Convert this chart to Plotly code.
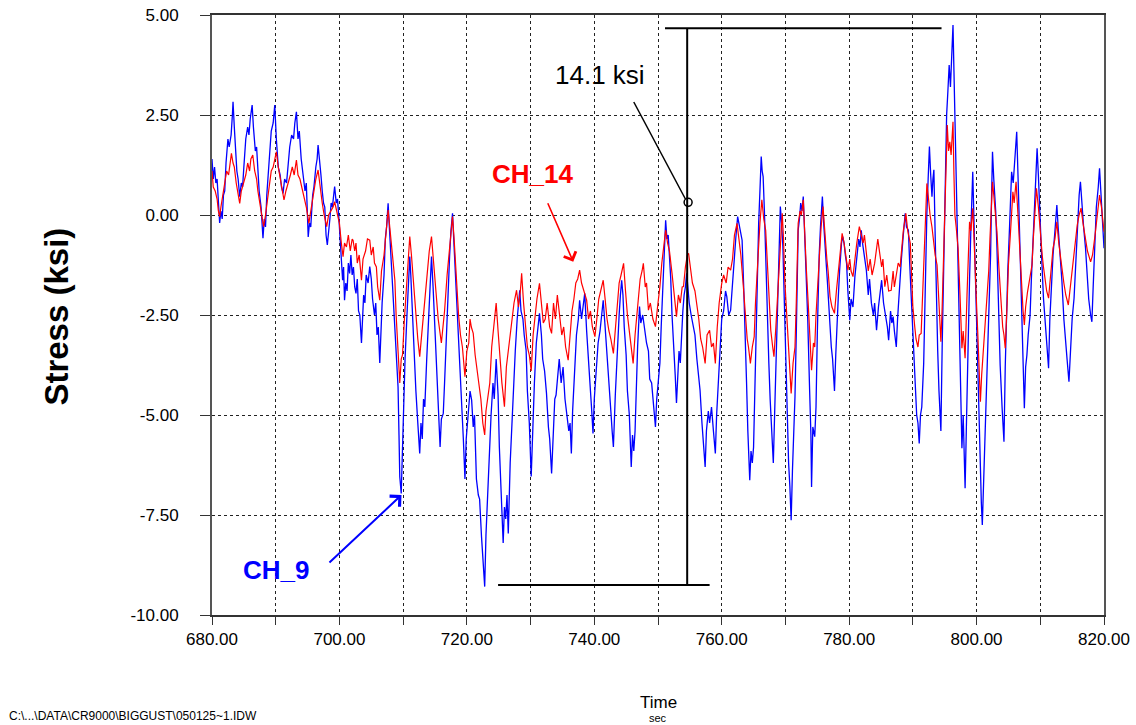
import plotly.graph_objects as go

# CH_9 (blue): (time sec, stress ksi)
ch9 = [
    (680.0, 1.4), (680.2, 0.9), (680.4, 1.2), (680.6, 0.8), (680.8, 0.9), (681.0, 0.3), (681.2, -0.2),
    (681.4, 0.1), (681.6, -0.1), (681.8, 0.5), (682.0, 0.6), (682.2, 1.3), (682.5, 1.9), (682.7, 1.7),
    (683.0, 2.0), (683.2, 2.5), (683.3, 2.83), (683.5, 2.2), (683.7, 1.7), (683.9, 1.1), (684.1, 0.9),
    (684.35, 0.46), (684.6, 0.8), (684.8, 0.7), (685.0, 1.2), (685.3, 1.9), (685.6, 2.2), (685.8, 2.0),
    (686.0, 2.4), (686.3, 2.75), (686.5, 2.2), (686.8, 1.6), (687.0, 1.7), (687.2, 1.0), (687.4, 0.6),
    (687.7, 0.2), (688.0, -0.58), (688.2, -0.1), (688.4, -0.3), (688.6, 0.5), (688.9, 1.2), (689.1, 1.6),
    (689.3, 2.1), (689.6, 2.3), (689.85, 2.75), (690.1, 1.9), (690.4, 1.2), (690.7, 1.0), (690.9, 0.7),
    (691.15, 0.54), (691.4, 0.9), (691.7, 0.8), (692.0, 1.4), (692.2, 1.7), (692.5, 2.0), (692.8, 1.9),
    (693.0, 2.3), (693.25, 2.58), (693.5, 1.9), (693.7, 2.1), (694.0, 1.4), (694.3, 1.0), (694.6, 0.6),
    (694.8, 0.8), (695.1, -0.55), (695.3, -0.2), (695.5, -0.3), (695.8, 0.5), (696.0, 0.7), (696.3, 1.2),
    (696.5, 1.4), (696.65, 1.75), (696.9, 1.2), (697.1, 1.0), (697.3, 0.6), (697.5, 0.3), (697.7, 0.2),
    (697.9, -0.5), (698.1, -0.75), (698.3, -0.3), (698.5, -0.1), (698.7, 0.3), (698.9, 0.2), (699.1, 0.5),
    (699.25, 0.71), (699.5, 0.3), (699.7, 0.4), (699.9, -0.04), (700.2, -0.9), (700.5, -1.63), (700.65, -1.3),
    (700.8, -2.13), (701.0, -1.7), (701.2, -1.9), (701.4, -1.2), (701.6, -1.46), (701.8, -1.0), (702.0, -1.5),
    (702.2, -1.3), (702.4, -1.8), (702.6, -1.96), (702.8, -1.6), (703.0, -2.4), (703.2, -2.5), (703.46, -3.2),
    (703.6, -2.6), (703.8, -2.0), (704.0, -2.2), (704.2, -1.5), (704.5, -1.7), (704.76, -1.29), (705.0, -1.6),
    (705.2, -2.1), (705.5, -2.5), (705.7, -2.2), (705.9, -3.0), (706.1, -2.8), (706.33, -3.7), (706.5, -2.9),
    (706.7, -2.2), (707.0, -1.5), (707.2, -0.6), (707.4, -0.3), (707.64, 0.29), (707.8, -0.2), (708.0, -0.8),
    (708.3, -1.6), (708.5, -2.2), (708.7, -2.6), (708.9, -3.4), (709.2, -4.3), (709.35, -5.5), (709.47, -6.54),
    (709.7, -6.96), (709.9, -5.8), (710.1, -5.0), (710.3, -3.6), (710.6, -2.5), (710.8, -1.6), (711.04, -1.04),
    (711.2, -1.5), (711.4, -2.3), (711.6, -2.8), (711.8, -3.5), (712.0, -4.4), (712.3, -5.2), (712.6, -5.96),
    (712.8, -5.2), (713.0, -5.6), (713.2, -4.6), (713.4, -4.8), (713.7, -3.6), (714.0, -2.4), (714.2, -1.6),
    (714.45, -1.04), (714.7, -1.8), (715.0, -2.9), (715.2, -3.5), (715.5, -4.8), (715.8, -5.8), (716.0, -5.1),
    (716.3, -4.96), (716.5, -4.2), (716.8, -2.8), (717.0, -2.0), (717.3, -1.0), (717.5, -0.4), (717.75, 0.04),
    (718.0, -0.8), (718.3, -1.8), (718.5, -2.5), (718.8, -3.6), (719.0, -4.1), (719.2, -4.54), (719.45, -5.6),
    (719.7, -6.6), (719.9, -5.6), (720.2, -5.0), (720.5, -4.4), (720.75, -4.63), (721.0, -5.3), (721.2, -5.0),
    (721.5, -6.6), (721.8, -7.0), (722.0, -7.1), (722.3, -8.04), (722.55, -8.6), (722.8, -9.29), (723.0, -8.0),
    (723.3, -6.8), (723.6, -5.8), (723.8, -5.0), (724.1, -4.2), (724.3, -4.6), (724.6, -3.6), (724.9, -4.5),
    (725.1, -5.8), (725.4, -6.9), (725.7, -8.2), (725.9, -7.3), (726.1, -7.6), (726.3, -7.0), (726.5, -7.96),
    (726.8, -6.2), (727.0, -5.4), (727.3, -4.6), (727.6, -3.4), (727.9, -2.6), (728.1, -2.2), (728.3, -1.88),
    (728.5, -2.4), (728.8, -2.6), (729.0, -3.0), (729.3, -3.38), (729.5, -4.4), (729.8, -5.2), (730.1, -6.54),
    (730.3, -5.4), (730.6, -4.2), (730.9, -3.2), (731.1, -2.9), (731.4, -2.46), (731.7, -3.0), (731.9, -3.6),
    (732.2, -3.9), (732.5, -4.46), (732.8, -5.3), (733.0, -5.6), (733.3, -6.46), (733.5, -5.5), (733.8, -4.6),
    (734.0, -4.5), (734.2, -4.2), (734.5, -3.6), (734.8, -4.2), (735.1, -3.8), (735.4, -4.6), (735.7, -5.0),
    (736.0, -5.4), (736.2, -5.2), (736.4, -5.96), (736.6, -4.9), (736.9, -4.0), (737.2, -3.0), (737.5, -2.6),
    (737.7, -2.13), (738.0, -2.6), (738.2, -2.3), (738.5, -1.96), (738.8, -2.9), (739.1, -3.8), (739.4, -4.4),
    (739.6, -4.9), (739.8, -5.46), (740.0, -4.6), (740.3, -4.0), (740.6, -3.2), (740.9, -2.9), (741.1, -2.5),
    (741.4, -2.13), (741.7, -2.8), (742.0, -3.6), (742.3, -4.3), (742.6, -4.9), (742.8, -5.4), (743.0, -5.8),
    (743.3, -4.5), (743.6, -3.4), (743.9, -2.5), (744.1, -2.0), (744.3, -1.63), (744.5, -2.0), (744.7, -2.8),
    (745.0, -3.5), (745.2, -4.4), (745.5, -5.0), (745.8, -6.3), (746.0, -5.5), (746.2, -5.9), (746.4, -5.4),
    (746.6, -4.2), (746.8, -3.3), (747.1, -2.29), (747.3, -2.7), (747.6, -2.5), (747.9, -2.9), (748.2, -3.2),
    (748.5, -3.4), (748.7, -4.1), (749.0, -4.2), (749.3, -4.8), (749.6, -5.3), (749.8, -4.6), (750.0, -4.2),
    (750.3, -3.7), (750.5, -2.8), (750.7, -1.9), (750.9, -1.0), (751.05, -0.4), (751.2, -0.13), (751.4, -0.6),
    (751.6, -0.5), (751.8, -1.04), (752.0, -1.6), (752.2, -2.5), (752.5, -3.3), (752.7, -4.0), (752.9, -4.7),
    (753.1, -3.9), (753.3, -3.4), (753.5, -3.7), (753.7, -2.88), (753.9, -2.4), (754.1, -2.0), (754.3, -1.8),
    (754.5, -1.46), (754.7, -1.9), (754.9, -2.2), (755.2, -2.5), (755.5, -2.71), (755.8, -3.0), (756.1, -3.6),
    (756.4, -4.0), (756.6, -4.38), (756.9, -5.2), (757.1, -5.7), (757.4, -6.3), (757.6, -5.4), (757.9, -4.9),
    (758.1, -5.2), (758.4, -4.8), (758.7, -5.4), (759.0, -5.96), (759.2, -5.0), (759.5, -4.1), (759.8, -3.04),
    (760.0, -2.6), (760.3, -2.4), (760.6, -1.9), (760.8, -2.04), (761.1, -2.5), (761.4, -2.38), (761.6, -1.9),
    (761.9, -1.46), (762.2, -0.6), (762.5, -0.04), (762.8, -0.3), (763.0, -0.5), (763.2, -0.63), (763.45, -1.8),
    (763.7, -2.88), (763.9, -4.2), (764.1, -5.4), (764.4, -6.63), (764.6, -5.9), (764.8, -6.2), (765.0, -5.8),
    (765.2, -4.3), (765.4, -2.6), (765.6, -1.38), (765.8, -0.2), (766.0, 0.6), (766.2, 1.46), (766.35, 1.1),
    (766.5, 0.96), (766.7, 0.1), (766.9, -1.21), (767.1, -2.2), (767.4, -3.71), (767.6, -4.6), (767.8, -5.2),
    (768.1, -6.2), (768.3, -5.0), (768.5, -3.9), (768.7, -2.88), (768.9, -1.5), (769.05, -0.5), (769.2, 0.21),
    (769.4, -0.2), (769.6, -0.8), (769.8, -2.0), (770.1, -4.1), (770.3, -5.0), (770.5, -6.2), (770.7, -6.8),
    (770.9, -7.63), (771.1, -6.4), (771.3, -5.5), (771.5, -4.54), (771.7, -3.0), (771.85, -1.6), (772.0, -0.38),
    (772.2, -0.1), (772.4, 0.3), (772.6, 0.1), (772.8, 0.46), (773.0, -0.4), (773.3, -1.63), (773.5, -2.6),
    (773.8, -4.4), (774.0, -5.5), (774.1, -6.8), (774.3, -5.3), (774.6, -5.54), (774.8, -4.8), (775.0, -3.0),
    (775.1, -2.04), (775.3, -1.0), (775.5, -0.3), (775.8, 0.46), (776.0, -0.2), (776.2, -0.6), (776.4, -1.21),
    (776.6, -1.7), (776.9, -2.6), (777.2, -3.3), (777.4, -3.6), (777.7, -4.4), (777.9, -3.5), (778.1, -2.5),
    (778.3, -2.04), (778.5, -1.4), (778.8, -0.7), (779.0, -0.54), (779.2, -0.7), (779.4, -1.0), (779.6, -1.21),
    (779.8, -1.9), (780.1, -2.63), (780.3, -2.1), (780.6, -2.3), (780.9, -1.54), (781.2, -1.0), (781.5, -0.6),
    (781.7, -0.8), (781.9, -0.38), (782.1, -0.7), (782.4, -1.1), (782.7, -1.38), (783.0, -2.0), (783.2, -1.6),
    (783.5, -2.21), (783.8, -2.5), (784.0, -2.2), (784.3, -2.88), (784.6, -2.3), (784.9, -1.9), (785.1, -1.63),
    (785.4, -2.2), (785.7, -2.5), (786.0, -2.8), (786.2, -3.13), (786.5, -2.4), (786.7, -2.7), (786.9, -2.54),
    (787.1, -2.9), (787.4, -3.3), (787.6, -2.6), (787.8, -2.0), (788.0, -1.63), (788.2, -1.1), (788.5, -0.5),
    (788.8, 0.04), (789.0, -0.3), (789.3, -0.38), (789.5, -1.2), (789.8, -2.21), (790.0, -3.0), (790.2, -3.8),
    (790.4, -4.54), (790.6, -5.0), (790.8, -5.2), (791.0, -5.71), (791.2, -5.0), (791.4, -4.8), (791.7, -3.71),
    (791.9, -2.0), (792.05, -0.8), (792.2, 0.04), (792.4, 0.9), (792.6, 1.71), (792.8, 1.0), (793.0, 0.46),
    (793.15, 0.9), (793.3, 1.13), (793.5, -0.5), (793.7, -2.3), (793.9, -3.4), (794.1, -4.4), (794.4, -5.4),
    (794.6, -3.3), (794.8, -1.67), (795.0, 0.2), (795.15, 1.4), (795.3, 2.5), (795.5, 3.1), (795.7, 3.75),
    (795.9, 3.2), (796.1, 4.1), (796.3, 4.75), (796.45, 3.6), (796.6, 2.5), (796.75, 1.2), (796.9, 0.0),
    (797.1, -0.83), (797.3, -2.4), (797.5, -4.2), (797.7, -5.83), (797.9, -5.0), (798.05, -6.0), (798.2, -6.83),
    (798.4, -5.3), (798.55, -4.0), (798.7, -2.92), (798.9, -1.6), (799.1, -0.4), (799.25, 0.5), (799.4, 1.08),
    (799.6, -0.2), (799.8, -1.5), (800.0, -2.3), (800.2, -3.33), (800.4, -4.9), (800.6, -6.25), (800.75, -7.2),
    (800.9, -7.75), (801.1, -6.8), (801.3, -5.83), (801.5, -4.8), (801.7, -3.5), (802.0, -2.5), (802.2, -1.0),
    (802.35, 0.4), (802.5, 1.58), (802.7, 0.9), (803.0, 0.1), (803.2, -0.83), (803.45, -2.4), (803.7, -3.75),
    (804.0, -4.8), (804.3, -5.67), (804.5, -3.8), (804.7, -2.5), (804.9, -1.4), (805.2, -0.2), (805.5, 1.08),
    (805.75, 0.8), (806.0, 1.5), (806.15, 1.7), (806.3, 2.08), (806.5, 1.0), (806.65, 0.2), (806.8, -1.17),
    (807.0, -2.3), (807.3, -3.8), (807.5, -4.83), (807.7, -3.8), (807.9, -3.5), (808.1, -3.0), (808.4, -2.5),
    (808.6, -1.6), (808.9, -0.42), (809.1, 0.4), (809.3, 1.0), (809.5, 1.67), (809.7, 1.0), (810.0, -0.42),
    (810.2, -1.0), (810.5, -2.08), (810.8, -2.8), (811.0, -3.3), (811.3, -3.83), (811.5, -2.6), (811.8, -1.5),
    (812.0, -1.0), (812.3, -0.4), (812.6, 0.25), (812.8, -0.3), (813.1, -0.9), (813.4, -1.67), (813.7, -2.6),
    (814.0, -3.3), (814.2, -3.6), (814.5, -4.17), (814.7, -3.4), (815.0, -2.6), (815.3, -2.08), (815.6, -1.0),
    (815.9, 0.0), (816.1, 0.5), (816.3, 0.83), (816.5, 0.3), (816.8, -0.3), (817.1, -0.83), (817.3, -1.4),
    (817.6, -2.1), (817.9, -2.5), (818.1, -2.67), (818.3, -1.8), (818.6, -0.67), (818.8, 0.2), (819.1, 0.7),
    (819.3, 1.17), (819.5, 0.6), (819.8, -0.2), (820.0, -0.83),
]

# CH_14 (red)
ch14 = [
    (680.0, 1.1), (680.2, 0.7), (680.5, 0.6), (680.8, 0.4), (681.0, 0.1), (681.2, -0.04), (681.4, 0.2),
    (681.7, 0.5), (682.0, 0.9), (682.3, 1.1), (682.6, 1.0), (682.8, 1.3), (683.05, 1.54), (683.3, 1.3),
    (683.5, 1.2), (683.8, 0.8), (684.1, 0.5), (684.35, 0.29), (684.6, 0.6), (685.0, 0.8), (685.3, 1.0),
    (685.6, 1.3), (685.9, 1.1), (686.1, 1.4), (686.4, 1.5), (686.7, 1.1), (687.0, 0.9), (687.2, 0.6),
    (687.5, 0.3), (687.8, 0.1), (688.1, -0.29), (688.4, 0.0), (688.7, 0.4), (689.0, 0.8), (689.3, 1.1),
    (689.6, 1.2), (689.9, 1.4), (690.1, 1.58), (690.4, 1.2), (690.7, 0.9), (691.0, 0.7), (691.3, 0.375),
    (691.6, 0.6), (692.0, 0.8), (692.3, 1.0), (692.6, 1.2), (692.9, 1.0), (693.25, 1.375), (693.5, 1.0),
    (693.8, 0.9), (694.2, 0.6), (694.5, 0.4), (694.8, 0.2), (695.2, -0.21), (695.5, 0.1), (695.8, 0.4),
    (696.0, 0.6), (696.3, 0.9), (696.65, 1.125), (697.0, 0.6), (697.3, 0.3), (697.6, 0.0), (698.0, -0.29),
    (698.3, 0.0), (698.7, 0.1), (699.0, 0.2), (699.25, 0.33), (699.6, 0.1), (700.0, -0.21), (700.3, -0.7),
    (700.57, -1.04), (700.8, -0.7), (701.1, -0.8), (701.4, -0.5), (701.7, -0.9), (702.0, -0.6), (702.14, -0.63),
    (702.4, -0.9), (702.6, -0.7), (702.8, -1.2), (703.1, -1.0), (703.46, -1.63), (703.7, -1.1), (704.1, -0.9),
    (704.4, -0.6), (704.76, -0.63), (705.0, -1.0), (705.3, -0.8), (705.5, -1.2), (705.8, -1.3), (706.0, -1.8),
    (706.33, -2.13), (706.6, -1.4), (707.0, -1.0), (707.3, -0.4), (707.64, 0.125), (707.9, -0.3), (708.2, -0.8),
    (708.5, -1.2), (708.7, -1.63), (708.9, -2.5), (709.2, -3.4), (709.47, -4.2), (709.7, -3.6), (709.9, -3.5),
    (710.2, -2.6), (710.5, -1.8), (710.8, -0.9), (711.04, -0.54), (711.3, -1.0), (711.5, -1.4), (711.8, -2.0),
    (712.0, -2.6), (712.3, -3.1), (712.6, -3.54), (712.9, -3.0), (713.2, -2.5), (713.5, -2.0), (713.8, -1.3),
    (714.1, -0.9), (714.45, -0.54), (714.7, -1.0), (715.0, -1.6), (715.2, -2.0), (715.5, -2.6), (716.0, -3.2),
    (716.2, -2.9), (716.5, -2.4), (716.9, -1.5), (717.2, -1.0), (717.5, -0.4), (717.75, -0.04), (718.0, -0.6),
    (718.3, -1.5), (718.7, -2.5), (719.0, -3.0), (719.3, -3.3), (719.7, -4.04), (720.0, -3.4), (720.3, -3.2),
    (720.5, -2.6), (720.7, -2.8), (721.0, -2.96), (721.3, -3.5), (721.6, -3.9), (721.9, -4.3), (722.2, -4.6),
    (722.5, -5.2), (722.8, -5.5), (723.0, -4.9), (723.3, -4.6), (723.6, -4.2), (723.9, -3.3), (724.2, -2.8),
    (724.6, -2.2), (724.9, -2.9), (725.2, -3.6), (725.5, -4.2), (725.9, -4.79), (726.2, -3.8), (726.5, -3.4),
    (726.8, -3.0), (727.1, -2.6), (727.4, -2.2), (727.8, -1.88), (728.1, -2.3), (728.4, -1.9), (728.6, -1.46),
    (728.9, -2.2), (729.2, -2.8), (729.5, -3.3), (729.8, -3.5), (730.1, -3.9), (730.4, -3.0), (730.7, -2.5),
    (731.0, -2.1), (731.4, -1.71), (731.7, -2.2), (732.0, -2.7), (732.3, -2.6), (732.6, -2.2), (733.0, -2.8),
    (733.3, -2.96), (733.6, -2.2), (733.9, -2.6), (734.2, -2.0), (734.6, -2.54), (734.9, -3.0), (735.2, -2.8),
    (735.5, -3.3), (735.9, -3.63), (736.2, -2.9), (736.5, -2.4), (736.8, -2.1), (737.1, -1.7), (737.4, -1.6),
    (737.7, -1.38), (738.0, -1.7), (738.4, -1.9), (738.8, -2.13), (739.1, -2.6), (739.4, -2.4), (739.7, -2.8),
    (740.1, -3.04), (740.4, -2.6), (740.7, -2.1), (741.0, -1.9), (741.4, -1.63), (741.7, -2.1), (742.0, -2.6),
    (742.3, -2.9), (742.6, -3.1), (743.0, -3.46), (743.3, -2.8), (743.6, -2.2), (743.9, -1.7), (744.2, -1.5),
    (744.6, -1.21), (744.9, -1.9), (745.2, -2.5), (745.6, -3.04), (746.1, -3.71), (746.4, -3.0), (746.9, -2.2),
    (747.2, -1.6), (747.5, -1.4), (747.7, -1.21), (748.0, -1.8), (748.2, -1.7), (748.5, -2.38), (748.8, -2.2),
    (749.2, -2.6), (749.6, -2.79), (750.0, -2.2), (750.3, -1.79), (750.6, -1.2), (750.9, -0.7), (751.2, -0.38),
    (751.5, -0.7), (751.8, -0.9), (752.2, -1.46), (752.5, -2.0), (752.9, -2.54), (753.2, -2.0), (753.5, -2.2),
    (753.8, -1.8), (754.0, -1.79), (754.3, -1.3), (754.6, -1.0), (754.8, -0.96), (755.1, -1.3), (755.4, -1.7),
    (755.8, -1.9), (756.1, -2.2), (756.4, -2.6), (756.7, -3.1), (757.0, -3.3), (757.4, -3.71), (757.7, -3.0),
    (758.1, -2.88), (758.4, -3.3), (758.7, -3.2), (759.0, -3.71), (759.3, -2.8), (759.6, -2.2), (760.0, -1.71),
    (760.3, -1.5), (760.7, -1.7), (761.0, -1.3), (761.4, -1.38), (761.7, -1.1), (762.0, -0.5), (762.4, -0.21),
    (762.7, -0.6), (763.0, -1.0), (763.4, -1.8), (763.7, -2.54), (764.0, -3.1), (764.2, -3.3), (764.5, -3.71),
    (764.8, -3.3), (765.1, -3.04), (765.3, -2.2), (765.6, -1.3), (765.8, -0.79), (766.0, -0.2), (766.3, 0.38),
    (766.6, -0.1), (766.9, -0.38), (767.2, -1.2), (767.5, -2.2), (767.7, -2.88), (768.0, -3.3), (768.2, -3.54),
    (768.5, -2.8), (768.8, -2.0), (769.0, -1.63), (769.2, -0.8), (769.5, 0.04), (769.7, -0.6), (769.9, -1.63),
    (770.2, -2.46), (770.5, -3.3), (770.9, -4.46), (771.2, -3.7), (771.5, -3.3), (771.7, -2.2), (771.85, -1.0),
    (772.0, -0.21), (772.3, 0.1), (772.5, 0.0), (772.8, 0.38), (773.0, -0.5), (773.3, -1.4), (773.6, -2.29),
    (773.9, -3.2), (774.1, -3.88), (774.4, -3.2), (774.6, -3.3), (774.8, -2.5), (775.1, -1.63), (775.4, -0.8),
    (775.6, -0.3), (775.9, 0.21), (776.2, -0.5), (776.5, -1.1), (776.7, -1.4), (777.0, -2.04), (777.3, -2.3),
    (777.7, -2.46), (778.0, -1.9), (778.3, -1.38), (778.6, -0.9), (778.9, -0.46), (779.2, -0.7), (779.5, -1.1),
    (779.8, -1.38), (780.1, -1.1), (780.3, -1.4), (780.6, -1.54), (780.9, -1.1), (781.2, -0.7), (781.6, -0.29),
    (781.9, -0.5), (782.2, -0.7), (782.4, -0.5), (782.7, -1.04), (783.0, -1.4), (783.3, -1.1), (783.6, -1.5),
    (784.0, -1.21), (784.3, -0.8), (784.5, -0.6), (784.8, -0.96), (785.1, -1.3), (785.3, -1.1), (785.6, -1.79),
    (785.9, -1.5), (786.2, -1.9), (786.6, -1.88), (786.9, -1.4), (787.1, -1.8), (787.4, -1.54), (787.7, -1.2),
    (788.0, -1.3), (788.2, -0.88), (788.5, -0.4), (788.9, 0.04), (789.2, -0.4), (789.6, -0.71), (789.8, -1.4),
    (790.0, -2.29), (790.3, -2.8), (790.5, -3.1), (790.8, -3.3), (791.0, -3.0), (791.3, -2.96), (791.5, -2.2),
    (791.7, -1.3), (791.9, -0.5), (792.2, 0.79), (792.4, 0.5), (792.7, 0.0), (793.0, -0.3), (793.2, -0.6),
    (793.5, -1.0), (793.8, -1.25), (794.0, -1.9), (794.2, -2.6), (794.4, -3.17), (794.6, -2.3), (794.9, -0.67),
    (795.1, 0.6), (795.4, 2.25), (795.6, 1.6), (795.8, 1.83), (796.0, 1.5), (796.3, 2.33), (796.45, 1.0),
    (796.6, 0.0), (796.8, -0.3), (797.1, -0.83), (797.4, -2.0), (797.7, -3.33), (797.9, -2.9), (798.2, -3.58),
    (798.5, -2.0), (798.7, -1.0), (798.9, -0.17), (799.1, -0.4), (799.4, 0.17), (799.6, -0.6), (799.8, -1.6),
    (800.0, -2.25), (800.2, -3.0), (800.4, -3.9), (800.6, -4.67), (800.8, -4.0), (801.1, -3.33), (801.4, -2.6),
    (801.6, -2.0), (801.9, -1.42), (802.1, -0.6), (802.3, 0.2), (802.5, 0.83), (802.7, 0.5), (803.0, 0.0),
    (803.2, -0.42), (803.5, -1.3), (803.8, -2.17), (804.1, -2.8), (804.3, -3.0), (804.5, -3.33), (804.8, -2.2),
    (805.0, -1.25), (805.3, -0.5), (805.5, 0.1), (805.7, 0.58), (805.9, 0.3), (806.2, 0.83), (806.5, 0.0),
    (806.8, -1.0), (807.1, -1.8), (807.3, -2.4), (807.5, -2.75), (807.7, -2.3), (808.0, -1.92), (808.3, -1.6),
    (808.7, -1.25), (808.9, -0.6), (809.1, 0.0), (809.4, 0.67), (809.7, 0.2), (810.0, -0.5), (810.3, -1.0),
    (810.5, -1.3), (810.8, -1.67), (811.0, -1.9), (811.3, -2.08), (811.6, -1.5), (812.0, -0.83), (812.3, -0.6),
    (812.6, -0.17), (812.9, -0.7), (813.1, -1.0), (813.4, -1.33), (813.7, -1.7), (814.0, -2.0), (814.4, -2.25),
    (814.7, -1.8), (815.0, -1.5), (815.4, -0.9), (815.8, -0.25), (816.1, 0.0), (816.4, 0.17), (816.7, -0.2),
    (817.1, -0.67), (817.4, -0.9), (817.9, -1.17), (818.2, -1.0), (818.6, -0.5), (818.9, 0.0), (819.3, 0.5),
    (819.6, 0.2), (820.0, -0.42),
]

ch9_t = [p[0] for p in ch9]
ch9_v = [p[1] for p in ch9]
ch14_t = [p[0] for p in ch14]
ch14_v = [p[1] for p in ch14]

x_ticks = [680, 690, 700, 710, 720, 730, 740, 750, 760, 770, 780, 790, 800, 810, 820]
x_labels = ['680.00', '', '700.00', '', '720.00', '', '740.00', '', '760.00', '',
            '780.00', '', '800.00', '', '820.00']
y_ticks = [-10, -7.5, -5, -2.5, 0, 2.5, 5]
y_labels = ['-10.00', '-7.50', '-5.00', '-2.50', '0.00', '2.50', '5.00']

FONT = 'Arial, Liberation Sans, sans-serif'

fig = go.Figure()
fig.add_trace(go.Scatter(x=ch9_t, y=ch9_v, mode='lines', name='CH_9',
                         line=dict(color='#0000ff', width=1.3)))
fig.add_trace(go.Scatter(x=ch14_t, y=ch14_v, mode='lines', name='CH_14',
                         line=dict(color='#ff0000', width=1.2)))

# range bars marking the 14.1 ksi swing
black = dict(color='black', width=2)
fig.add_shape(type='line', x0=754.58, x1=754.58, y0=-9.25, y1=4.67, line=black)
fig.add_shape(type='line', x0=751.1, x1=794.5, y0=4.67, y1=4.67, line=black)
fig.add_shape(type='line', x0=724.9, x1=758.1, y0=-9.25, y1=-9.25, line=black)
fig.add_shape(type='line', x0=746.2, x1=754.3, y0=2.825, y1=0.4,
              line=dict(color='black', width=1.5))
fig.add_shape(type='circle', x0=754.1, x1=755.35, y0=0.218, y1=0.418,
              line=dict(color='black', width=1.5))

fig.add_annotation(x=733.5, y=3.5, text='14.1 ksi', showarrow=False,
                   xanchor='left', yanchor='middle',
                   font=dict(family=FONT, size=26, color='black'))
fig.add_annotation(x=736.7, y=-1.17, ax=732.6, ay=0.33, axref='x', ayref='y',
                   text='', showarrow=True, arrowhead=4, arrowsize=1.6, arrowwidth=1.6,
                   arrowcolor='#ff0000')
fig.add_annotation(x=730.35, y=1.025, text='<b>CH_14</b>', showarrow=False,
                   xanchor='center', yanchor='middle',
                   font=dict(family=FONT, size=26, color='#ff0000'))
fig.add_annotation(x=709.74, y=-7.0, ax=698.2, ay=-8.725, axref='x', ayref='y',
                   text='', showarrow=True, arrowhead=4, arrowsize=1.4, arrowwidth=2,
                   arrowcolor='#0000ff')
fig.add_annotation(x=690.1, y=-8.875, text='<b>CH_9</b>', showarrow=False,
                   xanchor='center', yanchor='middle',
                   font=dict(family=FONT, size=26, color='#0000ff'))

# axis titles and file path footer
fig.add_annotation(x=-0.174, y=0.497, xref='paper', yref='paper', text='<b>Stress (ksi)</b>',
                   textangle=-90, showarrow=False, xanchor='center', yanchor='middle',
                   font=dict(family=FONT, size=33, color='black'))
fig.add_annotation(x=0.5, y=-0.145, xref='paper', yref='paper', text='Time',
                   showarrow=False, xanchor='center', yanchor='middle',
                   font=dict(family=FONT, size=17, color='black'))
fig.add_annotation(x=0.5, y=-0.171, xref='paper', yref='paper', text='sec',
                   showarrow=False, xanchor='center', yanchor='middle',
                   font=dict(family=FONT, size=11, color='black'))
fig.add_annotation(x=-0.2298, y=-0.169, xref='paper', yref='paper',
                   xanchor='left', yanchor='middle',
                   text='C:\\...\\DATA\\CR9000\\BIGGUST\\050125~1.IDW', showarrow=False,
                   font=dict(family=FONT, size=12, color='black'))

fig.update_layout(
    width=1136, height=725, autosize=False,
    margin=dict(l=212, r=32, t=15, b=110, autoexpand=False),
    paper_bgcolor='white', plot_bgcolor='white',
    showlegend=False,
    font=dict(family=FONT, size=17, color='black'),
    xaxis=dict(range=[680, 820], tickvals=x_ticks, ticktext=x_labels, automargin=False,
               showgrid=True, gridcolor='#222', griddash='3px,3px', gridwidth=1,
               showline=True, linecolor='#333', linewidth=1.5, mirror=True,
               ticks='outside', ticklen=8, tickcolor='#333', zeroline=False,
               tickfont=dict(size=17)),
    yaxis=dict(range=[-10, 5], tickvals=y_ticks, ticktext=y_labels, automargin=False,
               showgrid=True, gridcolor='#222', griddash='3px,3px', gridwidth=1,
               showline=True, linecolor='#555', linewidth=2, mirror=True,
               ticks='outside', ticklen=10, tickcolor='#333', zeroline=False,
               ticklabelstandoff=18, tickfont=dict(size=17)),
)

fig.write_html("out.html", config={'displayModeBar': False},
               post_script="document.body.style.margin='0px';")
